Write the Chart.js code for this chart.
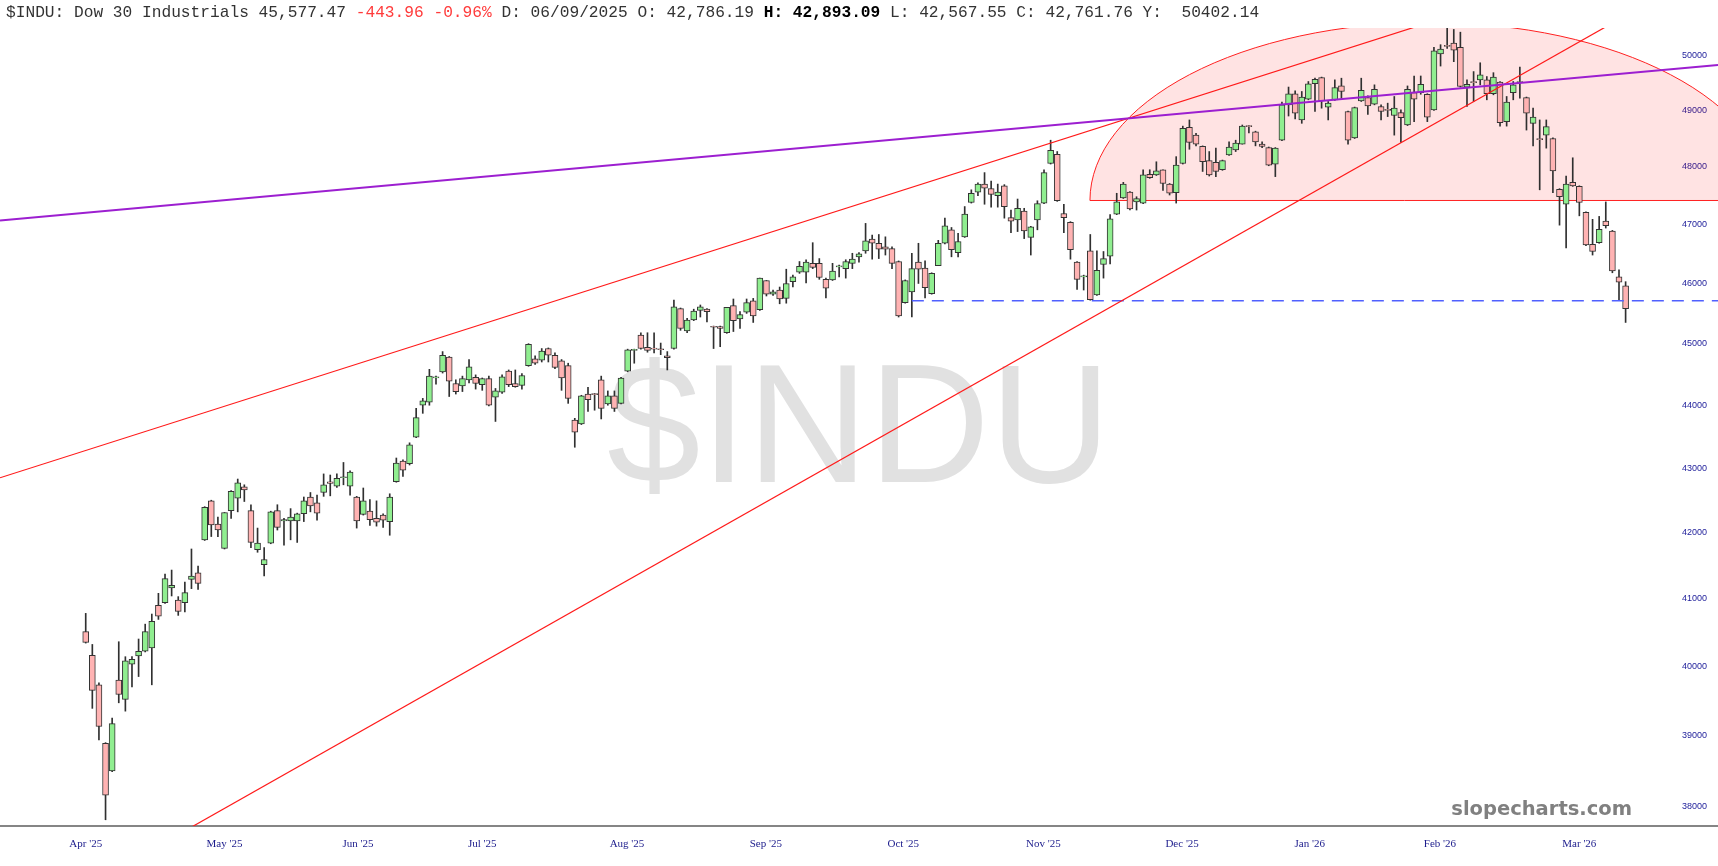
<!DOCTYPE html>
<html>
<head>
<meta charset="utf-8">
<title>$INDU - Dow 30 Industrials</title>
<script src="https://cdn.jsdelivr.net/npm/chart.js@4.4.1/dist/chart.umd.min.js"></script>
<style>
  html, body { margin: 0; padding: 0; background: #fff; }
  #wrap { position: relative; width: 1718px; height: 866px; overflow: hidden; }
  #mark { position: absolute; left: 0; top: 340px; width: 1718px; text-align: center;
          font: 168px/168px "Liberation Sans", Arial, sans-serif; color: #e1e1e1; }
  #chart { position: absolute; left: 0; top: 0; }
  #head { position: absolute; left: 6px; top: 5px; white-space: pre; color: #333;
          font: 16.2px/16px "Liberation Mono", "Courier New", monospace; }
  #head .neg { color: #ff3b3b; }
  #head b { color: #000; }
  #site { position: absolute; right: 86px; top: 799px; color: #808080;
          font: bold 19.5px/20px "DejaVu Sans", Verdana, sans-serif; }
</style>
</head>
<body>
<div id="wrap">
  <div id="mark">$INDU</div>
  <canvas id="chart" width="1718" height="866"></canvas>
  <div id="head">$INDU: Dow 30 Industrials 45,577.47 <span class="neg">-443.96 -0.96%</span> D: 06/09/2025 O: 42,786.19 <b>H: 42,893.09</b> L: 42,567.55 C: 42,761.76 Y:  50402.14</div>
  <div id="site">slopecharts.com</div>
</div>
<script>
// daily candles, 15 Apr 2025 .. mid Mar 2026 (index 0 = first candle)
const opens = [
  40510,40160,39730,38890,38500,39800,39520,40030,40150,40220,40270,40900,40940,41160,40980,40940,41290,41390,41890,42490,
  42130,41760,42340,42530,42710,42340,41740,41510,41840,42340,42180,42180,42180,42290,42550,42460,42620,42786,42720,42850,
  42720,42550,42280,42330,42220,42270,42170,42790,43110,43070,43490,44000,44050,44440,44540,44780,44350,44310,44410,44450,
  44330,44430,44130,44210,44550,44350,44320,44640,44750,44730,44920,44810,44720,44640,43760,43700,44180,44180,44410,44020,
  44150,44030,44550,44890,45140,44940,44920,44910,44800,44920,45580,45210,45390,45550,45570,45280,45280,45180,45630,45410,
  45520,45710,45560,46050,45820,45890,45750,46030,46190,46190,46340,46340,46070,46060,46280,46250,46340,46450,46550,46750,
  46680,46620,46590,46370,45680,45860,46360,46260,45830,46300,46680,46910,46520,46790,47380,47560,47700,47620,47500,47670,
  47120,47080,47230,46780,47080,47370,48060,48220,47190,47040,46360,46110,46550,45810,46320,46460,47180,47460,47560,47390,
  47370,47870,47860,47950,47700,47550,48060,48700,48560,48360,48110,48080,47950,48210,48300,48400,48720,48620,48400,48340,
  48050,48470,49100,49300,48830,49200,49480,49590,49060,49190,49440,48980,48510,49170,49230,49110,49070,49010,48910,48960,
  48740,49320,49320,49290,49010,50020,50170,50220,50140,49420,49510,49550,49550,49300,49510,48800,49320,49500,49230,48770,
  48490,48560,48500,47610,47350,47730,47660,47210,46660,46690,47060,46890,46110,45960
];
const highs = [
  40780,40320,39760,38900,39250,40360,40140,40140,40400,40620,40770,41080,41370,41430,41030,41250,41750,41490,42400,42500,
  42240,42310,42650,42830,42740,42430,42070,41770,42330,42430,42220,42370,42300,42550,42620,42580,42910,42893,42910,43090,
  42960,42560,42690,42510,42490,42290,42600,43160,43130,43400,43950,44110,44580,44470,44870,44790,44410,44470,44740,44490,
  44440,44470,44270,44490,44570,44570,44510,45000,44800,44920,44930,44850,44740,44680,43790,44160,44290,44190,44470,44230,
  44230,44450,44910,44910,45180,45180,45180,45010,44870,45720,45590,45420,45570,45640,45580,45290,45290,45600,45740,45530,
  45740,45750,46090,46050,45890,45940,46240,46140,46370,46400,46690,46420,46090,46340,46310,46400,46510,46520,47020,46820,
  46830,46790,46620,46380,46060,46510,46680,46380,46180,46730,47110,46950,46850,47310,47600,47720,47900,47750,47700,47690,
  47250,47440,47280,46970,47410,47950,48470,48270,47350,47050,46370,46140,46830,46550,46540,47170,47540,47730,47570,47480,
  47950,47950,48090,47950,47710,48180,48720,48830,48590,48370,48270,48330,48120,48440,48470,48740,48730,48630,48440,48350,
  48340,49150,49420,49350,49340,49520,49580,49600,49160,49550,49580,48990,49060,49580,49260,49460,49100,49130,49250,49010,
  49440,49620,49620,49300,50140,50190,50490,50470,50420,49550,49700,49860,49610,49680,49520,49250,49520,49780,49240,49040,
  48830,48830,48510,47620,47840,48160,47670,47220,47090,47140,47390,46900,46230,46030
];
const lows = [
  40340,39390,38940,37820,38490,39470,39350,39700,39850,40210,39730,40690,40930,41040,40750,40800,41150,41140,41880,41940,
  41940,41750,42220,42320,42480,41770,41700,41340,41830,42040,41810,41890,41850,42170,42320,42190,42560,42568,42700,42740,
  42580,42070,42270,42110,42100,42080,41960,42780,42870,43050,43480,43870,44000,44340,44520,44140,44180,44220,44360,44260,
  44240,43990,43740,44190,44300,44290,44260,44630,44660,44700,44700,44590,44240,44030,43330,43690,43900,43920,43780,44000,
  43900,44020,44540,44680,44910,44860,44850,44820,44570,44910,45220,45180,45380,45440,45360,44920,44950,45170,45200,45250,
  45500,45350,45550,45790,45800,45660,45670,45940,46170,46010,46250,46070,45760,46050,46110,46090,46250,46360,46510,46410,
  46420,46480,46250,45440,45670,45440,46000,45760,45820,46300,46670,46450,46450,46780,47370,47500,47350,47300,47300,47110,
  46860,46880,46760,46480,46910,47360,48050,47400,46860,46410,45900,45890,45720,45800,46090,46330,47170,47450,47250,47250,
  47360,47800,47850,47590,47510,47370,48050,48310,48370,47920,47840,47830,47940,48200,48270,48400,48600,48370,48340,48020,
  47830,48460,48900,48850,48770,49190,48980,49040,48830,49180,49220,48400,48500,49160,48930,49100,48830,48890,48560,48430,
  48730,48800,49290,48800,49000,49800,50120,49880,49420,49070,49160,49460,49190,49280,48720,48720,49190,49220,48650,48370,
  47600,48330,47550,46990,46600,47660,47150,46640,46480,46680,46940,46180,45720,45350
];
const closes = [
  40350,39650,39130,38160,39170,39590,40080,40100,40220,40510,40660,40740,41300,41200,40810,41090,41340,41230,42390,42120,
  42040,42310,42640,42770,42660,41850,41840,41590,42320,42080,42200,42240,42290,42490,42410,42300,42740,42762,42840,42860,
  42940,42180,42490,42200,42160,42190,42550,43080,42970,43370,43800,44070,44470,44460,44810,44390,44220,44430,44620,44350,
  44430,44000,44230,44460,44330,44300,44480,44990,44680,44880,44810,44610,44440,44110,43570,44150,44090,44170,43950,44150,
  43950,44440,44900,44890,44920,44890,44910,44900,44770,45610,45250,45390,45540,45610,45530,45270,45250,45600,45380,45480,
  45680,45460,46090,45820,45860,45740,46000,46110,46290,46360,46270,46100,45920,46210,46280,46370,46410,46500,46720,46680,
  46580,46580,46340,45460,46050,46250,46240,45930,46170,46680,46980,46570,46710,47180,47540,47700,47630,47520,47560,47310,
  47060,47280,46890,46960,47360,47900,48290,47410,47120,46570,46070,46130,45730,46220,46420,47100,47390,47700,47270,47450,
  47860,47810,47930,47710,47540,48030,48680,48430,48400,48090,47860,47920,48110,48350,48420,48720,48710,48440,48360,48030,
  48330,49100,49300,48950,49240,49480,49560,49170,49130,49410,49340,48470,49050,49360,49080,49380,48980,49000,49040,48870,
  49380,49200,49470,48880,50080,50110,50160,50090,49430,49470,49500,49640,49300,49600,48780,49150,49460,49500,48950,48880,
  48480,48710,47930,47480,47700,47670,47380,46650,46540,46920,46980,46210,46021,45577.47
];

// axis labels
const yTicks = [38000, 39000, 40000, 41000, 42000, 43000, 44000, 45000, 46000, 47000, 48000, 49000, 50000];
const monthLabels = ["Apr '25", "May '25", "Jun '25", "Jul '25", "Aug '25", "Sep '25",
                     "Oct '25", "Nov '25", "Dec '25", "Jan '26", "Feb '26", "Mar '26"];
const monthPos = [0, 21, 41.2, 60, 81.9, 102.9, 123.7, 144.9, 165.9, 185.2, 204.9, 226];

// drawn studies: [candle index, price]
const upperRay  = [[-12.97, 42850], [246.98, 52327]];
const lowerRay  = [[14.27, 37630], [246.98, 51703]];
const purpleRay = [[-12.97, 47070], [246.98, 49820]];
const supportLine = [[125, 45710], [246.98, 45710]];
// half ellipse zone
const zoneCenter = 203.4, zoneHalfWidth = 51.45, zoneBase = 47415, zoneTop = 50599;

const UP = '#90ee90', DOWN = '#ffb3b3';

const idx = opens.map((_, i) => i);
const pts = arr => arr.map(([x, y]) => ({x, y}));

const zonePlugin = {
  id: 'zone',
  beforeDatasetsDraw(chart) {
    const {ctx, chartArea: a, scales: {x, y}} = chart;
    const cx = x.getPixelForValue(zoneCenter);
    const rx = cx - x.getPixelForValue(zoneCenter - zoneHalfWidth);
    const cy = y.getPixelForValue(zoneBase);
    const ry = cy - y.getPixelForValue(zoneTop);
    ctx.save();
    ctx.beginPath();
    ctx.rect(a.left, a.top, a.right - a.left, a.bottom - a.top);
    ctx.clip();
    ctx.beginPath();
    ctx.ellipse(cx, cy, rx, ry, 0, Math.PI, 2 * Math.PI);
    ctx.closePath();
    ctx.fillStyle = 'rgba(255, 0, 0, 0.11)';
    ctx.fill();
    ctx.strokeStyle = '#ff2020';
    ctx.lineWidth = 1;
    ctx.stroke();
    ctx.restore();
  }
};

new Chart(document.getElementById('chart'), {
  type: 'bar',
  data: {
    datasets: [
      {
        label: 'wick',
        data: idx.map(i => ({x: i, y: [lows[i], highs[i]]})),
        backgroundColor: '#303030',
        barThickness: 1,
        grouped: false,
        order: 3
      },
      {
        label: 'body',
        data: idx.map(i => ({x: i, y: [opens[i], closes[i]]})),
        backgroundColor: idx.map(i => closes[i] >= opens[i] ? UP : DOWN),
        borderColor: '#333',
        borderWidth: 1,
        borderSkipped: false,
        barThickness: 6,
        minBarLength: 1,
        grouped: false,
        order: 2
      },
      { type: 'line', data: pts(purpleRay), borderColor: '#9c1fd0', borderWidth: 2, pointRadius: 0, order: 1 },
      { type: 'line', data: pts(upperRay), borderColor: '#ff1a1a', borderWidth: 1.2, pointRadius: 0, order: 1 },
      { type: 'line', data: pts(lowerRay), borderColor: '#ff1a1a', borderWidth: 1.2, pointRadius: 0, order: 1 },
      { type: 'line', data: pts(supportLine), borderColor: '#5060ff', borderWidth: 1.5,
        borderDash: [12, 8], pointRadius: 0, order: 1 }
    ]
  },
  options: {
    responsive: false,
    animation: false,
    layout: { padding: { top: 28, left: 0, right: 0, bottom: 0 } },
    plugins: { legend: { display: false }, tooltip: { enabled: false } },
    scales: {
      x: {
        type: 'linear',
        min: -12.97,
        max: 246.98,
        bounds: 'data',
        offset: false,
        grid: { display: false, drawTicks: false },
        border: { display: true, color: '#858585', width: 2 },
        afterBuildTicks: s => { s.ticks = monthPos.map(v => ({value: v})); },
        afterFit: s => { s.height = 40; },
        ticks: {
          autoSkip: false,
          maxRotation: 0,
          padding: 12,
          color: '#1c1c8c',
          font: { family: 'Liberation Serif', size: 11 },
          callback: (v, i) => monthLabels[i]
        }
      },
      y: {
        type: 'logarithmic',
        position: 'right',
        min: 37734,
        max: 50497,
        bounds: 'data',
        grid: { display: false, drawTicks: false },
        border: { display: false },
        afterBuildTicks: s => { s.ticks = yTicks.map(v => ({value: v})); },
        afterFit: s => { s.width = 0; },
        ticks: {
          mirror: true,
          padding: -11,
          color: '#1c1c99',
          font: { family: 'Liberation Sans', size: 9 },
          callback: v => String(v)
        }
      }
    }
  },
  plugins: [zonePlugin]
});
</script>
</body>
</html>
